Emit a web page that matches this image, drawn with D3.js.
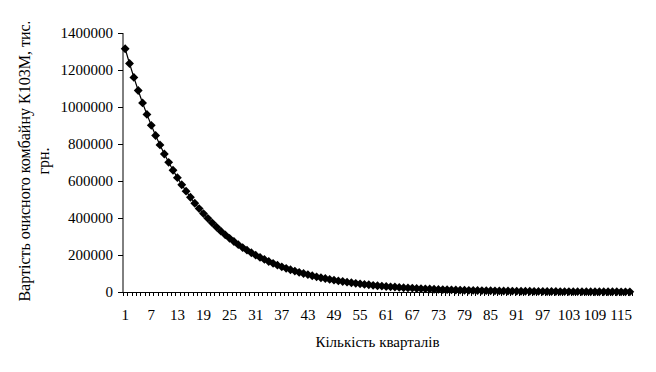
<!DOCTYPE html>
<html>
<head>
<meta charset="utf-8">
<script src="https://cdn.jsdelivr.net/npm/d3@7"></script>
<style>
  body { margin: 0; background: #fff; }
  svg text { font-family: "Liberation Serif", "DejaVu Serif", serif !important; fill: #000; }
</style>
</head>
<body>
<div id="chart"></div>
<script>
var svgWidth = 656;
var svgHeight = 372;

// quarters 1..117
var quarters = d3.range(1, 118);

// cost values, thousands of hryvnia
var costK = [1315, 1235, 1160, 1089, 1022, 960, 901, 846, 795, 746,
  701, 658, 618, 580, 545, 512, 480, 451, 424, 398,
  374, 351, 329, 309, 290, 273, 256, 240, 226, 212,
  199, 187, 176, 165, 155, 145, 136, 128, 120, 113,
  106, 100, 94, 88, 82, 77, 73, 68, 64, 60,
  57, 53, 50, 47, 44, 41, 39, 36, 34, 32,
  30, 28, 27, 25, 23, 22, 21, 19, 18, 17,
  16, 15, 14, 13, 12.5, 11.7, 11, 10.3, 9.7, 9.1,
  8.6, 8, 7.5, 7.1, 6.6, 6.2, 5.9, 5.5, 5.2, 4.9,
  4.6, 4.3, 4, 3.8, 3.5, 3.3, 3.1, 2.9, 2.8, 2.6,
  2.4, 2.3, 2.2, 2, 1.9, 1.8, 1.7, 1.6, 1.5, 1.4,
  1.3, 1.2, 1.1, 1.1, 1, 0.9, 0.9];

var yTicks = [0, 200000, 400000, 600000, 800000, 1000000, 1200000, 1400000];
var xLabelEvery = 6;

var margin = { top: 33, right: 24, bottom: 80, left: 123 };
var width = svgWidth - margin.left - margin.right;
var height = svgHeight - margin.top - margin.bottom;

var svg = d3.select("#chart")
  .append("svg")
  .attr("width", svgWidth)
  .attr("height", svgHeight)
  .attr("font-family", "Liberation Serif");

var chartGroup = svg.append("g")
  .attr("transform", `translate(${margin.left}, ${margin.top})`);

var xScale = d3.scaleBand()
  .domain(quarters)
  .range([0, width]);

var yScale = d3.scaleLinear()
  .domain([0, 1400000])
  .range([height, 0]);

// y axis
var leftAxis = d3.axisLeft(yScale)
  .tickValues(yTicks)
  .tickSize(5)
  .tickPadding(5)
  .tickFormat(d3.format("d"));

var yAxis = chartGroup.append("g").call(leftAxis)
  .attr("font-family", "Liberation Serif");
yAxis.selectAll("text").style("font-size", "15px");
yAxis.select(".domain").attr("d", `M0,0V${height}`);

// x axis: ticks between categories
var xAxisG = chartGroup.append("g")
  .attr("transform", `translate(0, ${height})`);

xAxisG.append("line")
  .attr("x1", 0).attr("x2", width)
  .attr("y1", 0.5).attr("y2", 0.5)
  .attr("stroke", "#000");

xAxisG.selectAll(".xt")
  .data(quarters.concat([quarters.length + 1]))
  .enter()
  .append("line")
  .attr("x1", d => Math.round(xScale.step() * (d - 1)) + 0.5)
  .attr("x2", d => Math.round(xScale.step() * (d - 1)) + 0.5)
  .attr("y1", 0)
  .attr("y2", 4)
  .attr("stroke", "#000");

xAxisG.selectAll(".xl")
  .data(quarters.filter(d => (d - 1) % xLabelEvery === 0))
  .enter()
  .append("text")
  .attr("x", d => xScale(d) + xScale.bandwidth() / 2)
  .attr("y", 28)
  .attr("text-anchor", "middle")
  .style("font-size", "15px")
  .text(d => d);

// line + markers
var pts = quarters.map((q, i) => ({ q: q, v: costK[i] * 1000 }));

var line = d3.line()
  .x(d => xScale(d.q) + xScale.bandwidth() / 2)
  .y(d => yScale(d.v));

chartGroup.append("path")
  .datum(pts)
  .attr("d", line)
  .attr("fill", "none")
  .attr("stroke", "#000")
  .attr("stroke-width", 1.2);

chartGroup.selectAll(".mk")
  .data(pts)
  .enter()
  .append("path")
  .attr("d", d3.symbol().type(d3.symbolDiamond2).size(50))
  .attr("transform", d => `translate(${xScale(d.q) + xScale.bandwidth() / 2}, ${yScale(d.v)})`)
  .attr("fill", "#000");

// axis titles
svg.append("text")
  .attr("x", margin.left + width / 2)
  .attr("y", 347)
  .attr("text-anchor", "middle")
  .style("font-size", "15px")
  .text("Кількість кварталів");

svg.append("clipPath")
  .attr("id", "ytclip")
  .append("rect")
  .attr("x", 0).attr("y", 22)
  .attr("width", 60).attr("height", 330);

var yTitle = svg.append("g")
  .attr("clip-path", "url(#ytclip)")
  .append("text")
  .attr("transform", "translate(30, 161) rotate(-90)")
  .attr("text-anchor", "middle")
  .style("font-size", "16px");

yTitle.append("tspan")
  .attr("x", 0).attr("y", 0)
  .text("Вартість очисного комбайну К103М, тис.");
yTitle.append("tspan")
  .attr("x", 0).attr("y", 19)
  .text("грн.");
</script>
</body>
</html>
